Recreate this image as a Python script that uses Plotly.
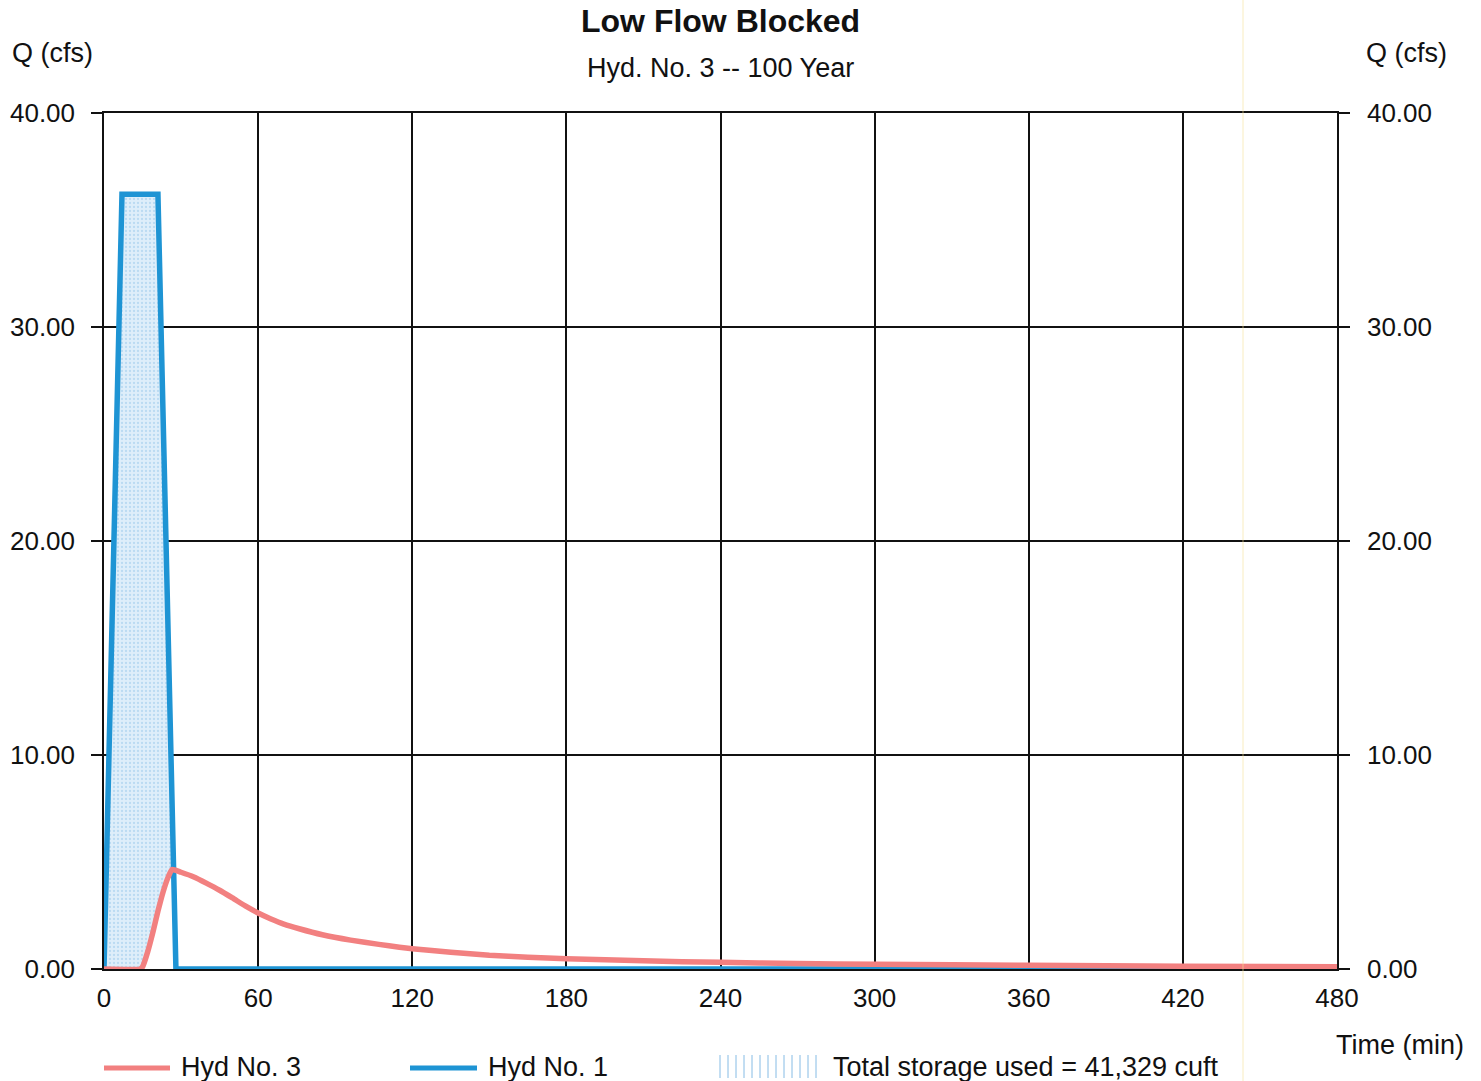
import numpy as np
import plotly.graph_objects as go

# ---- data ----
hyd1_time = [0, 7, 21, 28, 480]
hyd1_q = [0.0, 36.2, 36.2, 0.0, 0.0]

hyd3_time = [0, 14, 15, 17, 19, 21, 23, 25, 26.5, 30, 35, 40, 45, 50, 55, 60, 65, 70,
             76, 85, 96, 107, 115, 120, 135, 150, 165, 180, 210, 240, 270, 300, 360,
             420, 480]
hyd3_q = [0.0, 0.0, 0.1, 0.8, 1.7, 2.7, 3.6, 4.3, 4.65, 4.52, 4.3, 4.0, 3.68, 3.32,
          2.95, 2.62, 2.34, 2.1, 1.88, 1.6, 1.35, 1.15, 1.02, 0.95, 0.78, 0.64, 0.55,
          0.48, 0.38, 0.31, 0.26, 0.22, 0.17, 0.13, 0.1]

x_ticks = [0, 60, 120, 180, 240, 300, 360, 420, 480]
y_ticks = [0, 10, 20, 30, 40]
y_tick_labels = ["0.00", "10.00", "20.00", "30.00", "40.00"]

title_text = "Low Flow Blocked"
subtitle_text = "Hyd. No. 3 -- 100 Year"
legend_labels = ["Hyd No. 3", "Hyd No. 1", "Total storage used = 41,329 cuft"]

PINK = "rgb(242,128,128)"
BLUE = "rgb(30,148,212)"
FONT = "Liberation Sans, Arial, sans-serif"

# ---- layout geometry (pixels) ----
W, H = 1481, 1081
L, R, T, B = 104, 1337, 113, 969


def px(xp):
    return (xp - L) / (R - L)


def py(yp):
    return (B - yp) / (B - T)


# storage region: between Hyd No. 1 (upper) and Hyd No. 3 (lower) while inflow > 0
t_end = hyd1_time[3]
t_fill = np.unique(np.concatenate([
    [t for t in hyd1_time if t <= t_end],
    [t for t in hyd3_time if t <= t_end],
    [t_end]]))
upper = np.interp(t_fill, hyd1_time, hyd1_q)
lower = np.minimum(np.interp(t_fill, hyd3_time, hyd3_q), upper)

fig = go.Figure()
fig.add_trace(go.Scatter(x=t_fill, y=lower, mode="lines",
                         line=dict(width=0, color="rgba(0,0,0,0)"),
                         showlegend=False, hoverinfo="skip"))
fig.add_trace(go.Scatter(x=t_fill, y=upper, mode="lines",
                         line=dict(width=0, color="rgba(0,0,0,0)"),
                         fill="tonexty", fillcolor="rgba(214,234,248,1)",
                         fillpattern=dict(shape=".", fgcolor="rgba(120,180,225,0.7)",
                                          bgcolor="rgba(222,238,250,1)", size=4,
                                          solidity=0.25),
                         showlegend=False, hoverinfo="skip"))
fig.add_trace(go.Scatter(x=hyd1_time, y=hyd1_q, mode="lines",
                         line=dict(color=BLUE, width=5.5), name=legend_labels[1],
                         showlegend=False))
fig.add_trace(go.Scatter(x=hyd3_time, y=hyd3_q, mode="lines",
                         line=dict(color=PINK, width=5.5, shape="spline", smoothing=0.5),
                         name=legend_labels[0], showlegend=False))
# invisible trace so the right axis is drawn
fig.add_trace(go.Scatter(x=[0], y=[0], yaxis="y2", mode="markers",
                         marker=dict(opacity=0), showlegend=False, hoverinfo="skip"))

tick_font = dict(family=FONT, size=26, color="#111")
TXT = 27

fig.update_layout(
    width=W, height=H,
    margin=dict(l=L, r=W - R, t=T, b=H - B, pad=0, autoexpand=False),
    paper_bgcolor="white", plot_bgcolor="white",
    showlegend=False,
    xaxis=dict(range=[0, 480], tickvals=x_ticks, ticktext=[str(v) for v in x_ticks],
               showgrid=True, gridcolor="#111", gridwidth=1.5,
               showline=True, linecolor="#111", linewidth=1.5, mirror=True,
               ticks="", tickfont=tick_font, ticklabelstandoff=5,
               zeroline=False, automargin=False),
    yaxis=dict(range=[0, 40], tickvals=y_ticks, ticktext=y_tick_labels,
               showgrid=True, gridcolor="#111", gridwidth=1.5,
               showline=True, linecolor="#111", linewidth=1.5,
               ticks="outside", ticklen=11, tickcolor="#111", tickwidth=1.5,
               tickfont=tick_font, ticklabelstandoff=11, zeroline=False,
               automargin=False),
    yaxis2=dict(range=[0, 40], tickvals=y_ticks, ticktext=y_tick_labels,
                overlaying="y", side="right", showgrid=False,
                showline=True, linecolor="#111", linewidth=1.5,
                ticks="outside", ticklen=11, tickcolor="#111", tickwidth=1.5,
                tickfont=tick_font, ticklabelstandoff=12, zeroline=False,
                automargin=False),
)

ann = []
ann.append(dict(text="<b>" + title_text + "</b>", x=px(720), y=py(21), xref="paper", yref="paper",
                xanchor="center", yanchor="middle", showarrow=False,
                font=dict(family=FONT, size=32, color="#111")))
ann.append(dict(text=subtitle_text, x=px(720), y=py(68), xref="paper", yref="paper",
                xanchor="center", yanchor="middle", showarrow=False,
                font=dict(family=FONT, size=TXT, color="#111")))
ann.append(dict(text="Q (cfs)", x=px(52), y=py(53), xref="paper", yref="paper",
                xanchor="center", yanchor="middle", showarrow=False,
                font=dict(family=FONT, size=TXT, color="#111")))
ann.append(dict(text="Q (cfs)", x=px(1406), y=py(53), xref="paper", yref="paper",
                xanchor="center", yanchor="middle", showarrow=False,
                font=dict(family=FONT, size=TXT, color="#111")))
ann.append(dict(text="Time (min)", x=px(1400), y=py(1045), xref="paper", yref="paper",
                xanchor="center", yanchor="middle", showarrow=False,
                font=dict(family=FONT, size=TXT, color="#111")))
# legend texts
for label, xl in zip(legend_labels, [179, 486, 831]):
    ann.append(dict(text=label, x=px(xl), y=py(1067), xref="paper", yref="paper",
                    xanchor="left", yanchor="middle", showarrow=False,
                    font=dict(family=FONT, size=TXT, color="#111")))

shapes = []
# legend line swatches
shapes.append(dict(type="line", xref="paper", yref="paper", x0=px(104), x1=px(170),
                   y0=py(1068), y1=py(1068), line=dict(color=PINK, width=5)))
shapes.append(dict(type="line", xref="paper", yref="paper", x0=px(410), x1=px(477),
                   y0=py(1068), y1=py(1068), line=dict(color=BLUE, width=5)))
# legend pattern swatch (vertical hatch)
for xp in np.arange(720, 822, 8):
    shapes.append(dict(type="line", xref="paper", yref="paper", x0=px(xp), x1=px(xp),
                       y0=py(1055), y1=py(1078),
                       line=dict(color="rgba(120,180,225,0.75)", width=1.2)))
# faint scan line
shapes.append(dict(type="line", xref="paper", yref="paper", x0=px(1243), x1=px(1243),
                   y0=py(0), y1=py(H), line=dict(color="rgba(245,225,150,0.6)", width=1),
                   layer="above"))

fig.update_layout(annotations=ann, shapes=shapes)

fig.write_html("out.html")
